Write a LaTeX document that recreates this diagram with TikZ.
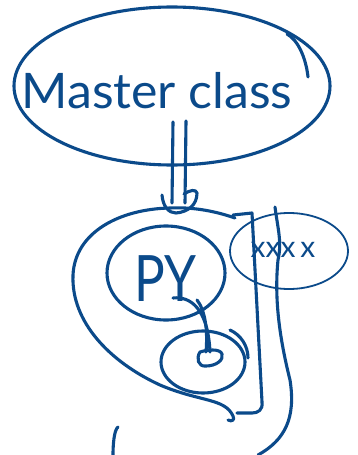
\documentclass[tikz,border=0pt]{standalone}
\usepackage{fontspec}
\setmainfont{Lato}
\usetikzlibrary{shapes.geometric}
\definecolor{ink}{HTML}{0B4A8A}
\begin{document}
\begin{tikzpicture}[x=1pt,y=-1pt,
  pen/.style={draw=ink,line width=3.1pt,line cap=round,line join=round},
  thinpen/.style={draw=ink,line width=1.8pt,line cap=round,line join=round},
  ell/.style={ellipse,pen,inner sep=0pt},
  hand/.style={text=ink,inner sep=0pt,anchor=base}]
\useasboundingbox (0,0) rectangle (357,455);
% ellipses
\node[ell,minimum width=316pt,minimum height=158pt] (master) at (172,86) {};
\node[ell,minimum width=118pt,minimum height=94pt] (py) at (166,273) {};
\node[ell,minimum width=84pt,minimum height=62pt] (small) at (203,362) {};
\node[ellipse,thinpen,inner sep=0pt,minimum width=118pt,minimum height=76pt] (other) at (289,251) {};
% texts
\node[hand,font=\fontsize{49}{49}\selectfont,xscale=1.02] (mtext) at (157,108) {Master class};
\node[hand,font=\fontsize{64}{64}\selectfont,xscale=0.8] (pytext) at (165,301) {PY};
\node[hand,font=\fontsize{30}{30}\selectfont] (otext) at (283,257) {xxx\,x};
% overshoot strokes
\draw[pen] (287,34) .. controls (298,40) and (306,58) .. (308,77);
\draw[pen] (230,330) .. controls (241,335) and (248,346) .. (248,358);
% double arrow from master
\coordinate (a1) at (173,122);
\coordinate (a2) at (186,121);
\coordinate (b1) at (172,203);
\coordinate (b2) at (185,203);
\draw[pen] (a1) -- (b1);
\draw[pen] (a2) -- (b2);
\coordinate (h1) at (162,195);
\coordinate (h2) at (176,213);
\coordinate (h3) at (197,193);
\draw[pen] (h1) .. controls (163,207) and (169,213) .. (h2) .. controls (188,212) and (197,205) .. (h3) .. controls (196,189) and (190,190) .. (184,194);
% outer loop
\coordinate (o1) at (235,218);
\coordinate (o2) at (170,208);
\coordinate (o3) at (73,275);
\coordinate (o4) at (160,385);
\coordinate (o5) at (233,416);
\draw[pen] (o1) .. controls (212,210) and (190,207) .. (o2)
  .. controls (120,209) and (75,232) .. (o3)
  .. controls (71,322) and (110,362) .. (o4)
  .. controls (200,402) and (225,398) .. (o5) .. controls (235,420) and (232,422) .. (228,420);
% right bar
\coordinate (r1) at (233,215);
\coordinate (r2) at (252,213);
\coordinate (r3) at (262,402);
\coordinate (r4) at (237,413);
\draw[pen] (r1) -- (r2) -- (r3) .. controls (263,410) and (258,413) .. (252,413) -- (r4);
% long right curve
\coordinate (c1) at (275,207);
\coordinate (c2) at (278,260);
\coordinate (c3) at (290,380);
\coordinate (c4) at (258,455);
\draw[pen] (c1) .. controls (278,230) and (282,242) .. (c2)
  .. controls (274,300) and (280,340) .. (c3)
  .. controls (296,418) and (285,440) .. (c4);
% bottom-left stroke
\coordinate (d1) at (118,427);
\coordinate (d2) at (113,455);
\draw[pen] (d1) .. controls (114,430) and (113,445) .. (d2);
% arrow PY -> small
\coordinate (p1) at (173,298);
\coordinate (p2) at (210,352);
\coordinate (p3) at (197,300);
\coordinate (p4) at (206,352);
\draw[pen] (p1) .. controls (190,296) and (208,308) .. (p2);
\draw[pen] (p3) .. controls (205,310) and (208,330) .. (p4);
\draw[pen] (200,352) .. controls (196,358) and (198,367) .. (206,366)
  .. controls (216,366) and (224,360) .. (222,354)
  .. controls (220,348) and (206,350) .. cycle;
\end{tikzpicture}
\end{document}
